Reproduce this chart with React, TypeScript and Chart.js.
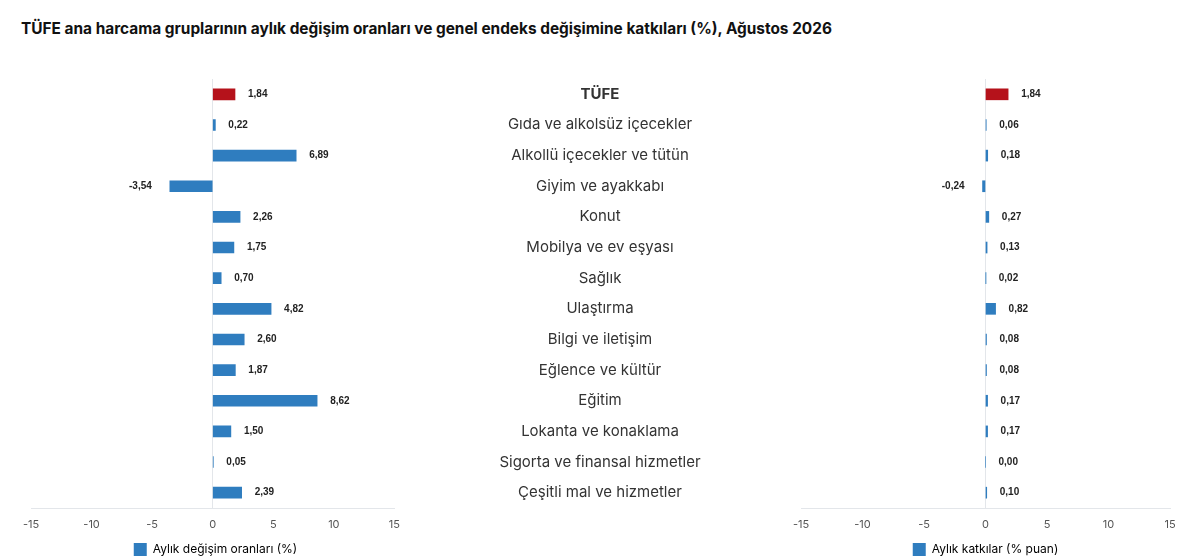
import React, { useEffect, useRef } from "react";
import { Chart, registerables } from "chart.js";

Chart.register(...registerables);

const categories = [
  "TÜFE",
  "Gıda ve alkolsüz içecekler",
  "Alkollü içecekler ve tütün",
  "Giyim ve ayakkabı",
  "Konut",
  "Mobilya ve ev eşyası",
  "Sağlık",
  "Ulaştırma",
  "Bilgi ve iletişim",
  "Eğlence ve kültür",
  "Eğitim",
  "Lokanta ve konaklama",
  "Sigorta ve finansal hizmetler",
  "Çeşitli mal ve hizmetler",
];

const monthlyChange = [1.84, 0.22, 6.89, -3.54, 2.26, 1.75, 0.7, 4.82, 2.6, 1.87, 8.62, 1.5, 0.05, 2.39];
const contribution = [1.84, 0.06, 0.18, -0.24, 0.27, 0.13, 0.02, 0.82, 0.08, 0.08, 0.17, 0.17, 0.0, 0.1];

const axisTicks = [-15, -10, -5, 0, 5, 10, 15];

const titleText = "TÜFE ana harcama gruplarının aylık değişim oranları ve genel endeks değişimine katkıları (%), Ağustos 2026";
const leftLegend = "Aylık değişim oranları (%)";
const rightLegend = "Aylık katkılar (% puan)";

const BLUE = "#2f7dbf";
const RED = "#b5121b";

const fmt = (v: number) => v.toFixed(2).replace(".", ",");

const valueLabelPlugin = {
  id: "valueLabels",
  afterDatasetsDraw(chart: any) {
    const ctx = chart.ctx;
    const meta = chart.getDatasetMeta(0);
    const data = chart.data.datasets[0].data as number[];
    ctx.save();
    ctx.font = "bold 10px 'Liberation Sans', Arial, sans-serif";
    ctx.fillStyle = "#222";
    ctx.textBaseline = "middle";
    meta.data.forEach((el: any, i: number) => {
      const v = data[i];
      if (v < 0) {
        ctx.textAlign = "right";
        ctx.fillText(fmt(v), el.x - 18, el.y);
      } else {
        ctx.textAlign = "left";
        ctx.fillText(fmt(v), el.x + 13, el.y);
      }
    });
    ctx.restore();
  },
};

// category names drawn in the gap left of the right-hand plot, on the y scale's rows
const CAT_CENTER_OFFSET = 201;
const categoryLabelPlugin = {
  id: "categoryLabels",
  afterDraw(chart: any) {
    if (!chart.options.plugins.categoryLabels?.show) return;
    const ctx = chart.ctx;
    const yScale = chart.scales.y;
    const x = chart.chartArea.left - CAT_CENTER_OFFSET;
    ctx.save();
    ctx.fillStyle = "#333";
    ctx.textAlign = "center";
    ctx.textBaseline = "middle";
    (chart.data.labels as string[]).forEach((label, i) => {
      ctx.font = (i === 0 ? "bold " : "") + "15px Inter";
      ctx.fillText(label, x, yScale.getPixelForValue(i));
    });
    ctx.restore();
  },
};

function makeConfig(values: number[], legend: string, showCats: boolean, pad: any): any {
  return {
    type: "bar",
    data: {
      labels: categories,
      datasets: [
        {
          label: legend,
          data: values,
          backgroundColor: values.map((_, i) => (i === 0 ? RED : BLUE)),
          borderWidth: 0,
          barThickness: 11,
        },
      ],
    },
    options: {
      indexAxis: "y",
      animation: false,
      responsive: false,
      maintainAspectRatio: false,
      layout: { padding: pad },
      scales: {
        x: {
          type: "linear",
          min: -15,
          max: 15,
          afterBuildTicks: (axis: any) => {
            axis.ticks = axisTicks.map((v) => ({ value: v }));
          },
          afterFit: (axis: any) => {
            axis.height = 33;
          },
          grid: {
            drawTicks: false,
            color: (c: any) => (c.tick && c.tick.value === 0 ? "#e3e6ea" : "rgba(0,0,0,0)"),
          },
          border: { display: true, color: "#e3e6ea" },
          ticks: {
            padding: 10,
            color: "#555",
            font: { family: "Inter", size: 11 },
          },
        },
        y: {
          display: false,
        },
      },
      plugins: {
        categoryLabels: { show: showCats },
        legend: {
          position: "bottom",
          labels: {
            boxWidth: 13,
            boxHeight: 13,
            padding: 2,
            color: "#333",
            font: { family: "Inter", size: 12 },
            generateLabels: () => [
              { text: legend, fillStyle: BLUE, strokeStyle: BLUE, lineWidth: 0, hidden: false, datasetIndex: 0 },
            ],
          },
        },
        tooltip: { enabled: false },
        title: { display: false },
      },
    },
    plugins: [valueLabelPlugin, categoryLabelPlugin],
  };
}

export default function App() {
  const leftRef = useRef<HTMLCanvasElement>(null);
  const rightRef = useRef<HTMLCanvasElement>(null);

  useEffect(() => {
    document.body.style.margin = "0";
    const l = new Chart(leftRef.current!, makeConfig(monthlyChange, leftLegend, false, { left: 31, right: 10, top: 79, bottom: -9 }));
    const r = new Chart(rightRef.current!, makeConfig(contribution, rightLegend, true, { left: 391, right: 30, top: 79, bottom: -9 }));
    return () => {
      l.destroy();
      r.destroy();
    };
  }, []);

  return (
    <div style={{ position: "relative", width: 1200, height: 557, background: "#fff", overflow: "hidden" }}>
      <div
        style={{
          position: "absolute",
          left: 21,
          top: 19,
          fontFamily: "Inter",
          fontWeight: 700,
          fontSize: 15.4,
          color: "#111",
          whiteSpace: "nowrap",
        }}
      >
        {titleText}
      </div>
      <canvas ref={leftRef} width={410} height={557} style={{ position: "absolute", left: 0, top: 0, width: 410, height: 557 }} />
      <canvas ref={rightRef} width={790} height={557} style={{ position: "absolute", left: 410, top: 0, width: 790, height: 557 }} />
    </div>
  );
}
